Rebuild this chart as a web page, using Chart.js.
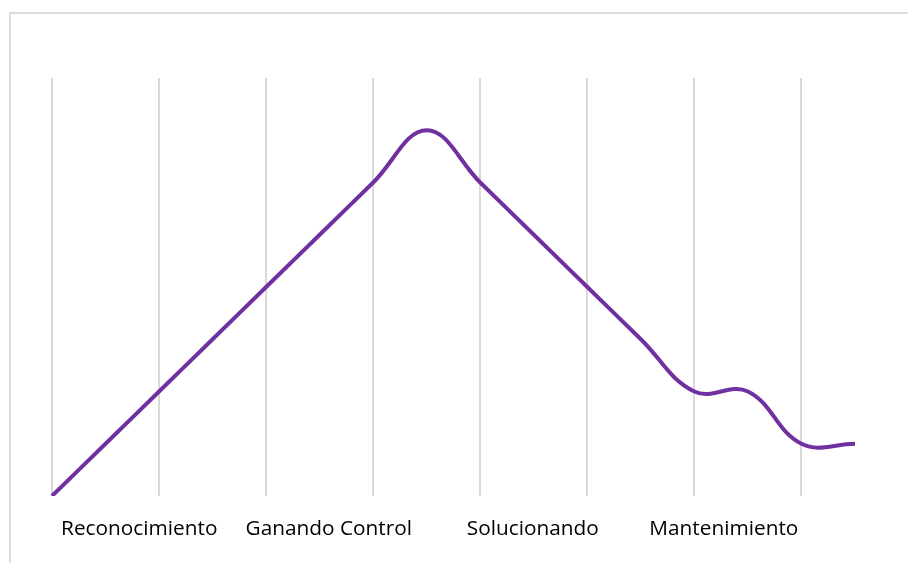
<!DOCTYPE html>
<html>
<head>
<meta charset="utf-8">
<script src="https://cdn.jsdelivr.net/npm/chart.js@4/dist/chart.umd.min.js"></script>
<style>
  html, body { margin: 0; padding: 0; background: #fff; overflow: hidden; }
  #frame { position: absolute; left: 9px; top: 12px; width: 1000px; height: 1000px;
           border-left: 2px solid #dcdcdc; border-top: 2px solid #dcdcdc; }
  #curve { position: absolute; left: 0; top: 0; }
</style>
</head>
<body>
<div id="frame"></div>
<canvas id="curve" width="908" height="563"></canvas>
<script>
// 16 steps, one grid line every 2 steps
const steps = ['1','2','3','4','5','6','7','8','9','10','11','12','13','14','15','16']
const level = [0, 1, 2, 3, 4, 5, 6, 7, 6, 5, 4, 3, 2, 2, 1, 1]

// phase names and where they sit along the steps axis
const phaseNames = ['Reconocimiento', 'Ganando Control', 'Solucionando', 'Mantenimiento']
const phaseAt = [1.63, 5.17, 8.98, 12.55]

function build_chart_curve(){
  const ctx = document.getElementById("curve")
  new Chart(ctx, {
    type: "line",
    data: {
      labels: steps,
      datasets: [{
        data: level,
        borderColor: '#7030a0',
        borderWidth: 4,
        pointRadius: 0,
        tension: 0.4,
        fill: false
      }]
    },
    options: {
      responsive: false,
      animation: false,
      layout: {
        padding: { left: 52, right: 53, top: 78, bottom: 0 }
      },
      plugins: {
        legend: { display: false },
        tooltip: { enabled: false }
      },
      scales: {
        x: {
          offset: false,
          ticks: { display: false },
          border: { display: false },
          grid: {
            drawTicks: false,
            lineWidth: 2,
            color: c => c.index % 2 === 0 ? '#d9d9d9' : 'rgba(0,0,0,0)'
          }
        },
        phase: {
          type: 'linear',
          axis: 'x',
          position: 'bottom',
          min: 0,
          max: steps.length - 1,
          afterBuildTicks: axis => { axis.ticks = phaseAt.map(v => ({ value: v })) },
          border: { display: false },
          grid: { display: false, drawTicks: false },
          ticks: {
            autoSkip: false,
            maxRotation: 0,
            padding: 21,
            color: '#000',
            font: { family: 'Open Sans', size: 20.8 },
            callback: (v, i) => phaseNames[i]
          }
        },
        y: {
          display: false,
          min: 0,
          max: 8
        }
      }
    }
  })
}
build_chart_curve()
</script>
</body>
</html>
